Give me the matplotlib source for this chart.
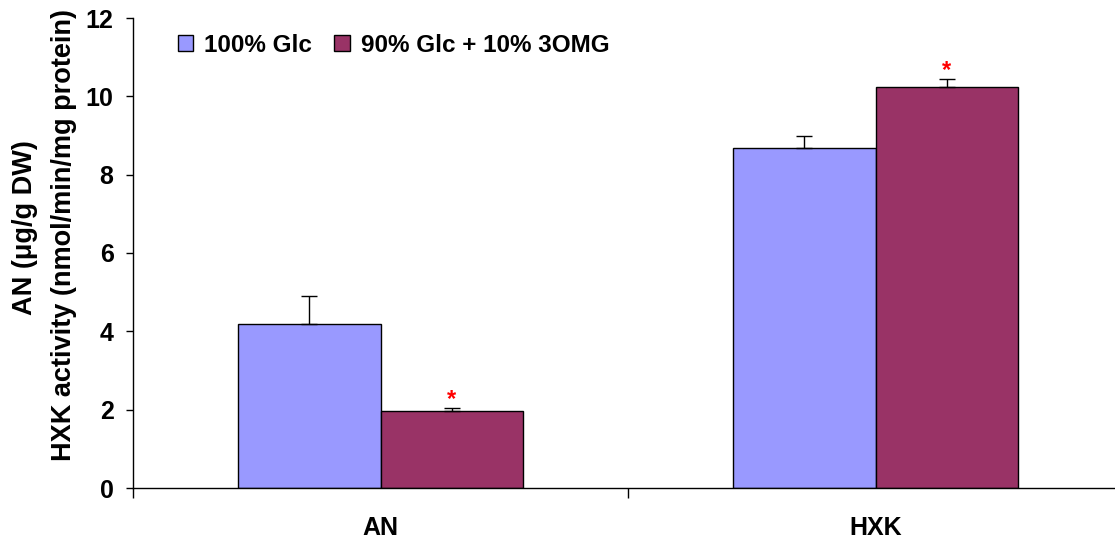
import numpy as np
import matplotlib
matplotlib.use("Agg")
import matplotlib.pyplot as plt

plt.rcParams['font.family'] = ['Liberation Sans', 'DejaVu Sans']
plt.rcParams['font.weight'] = 'bold'

categories = ["AN", "HXK"]
series_names = ["100% Glc", "90% Glc + 10% 3OMG"]
glc_values = [4.19, 8.69]
glc_err = [0.70, 0.30]
omg_values = [1.97, 10.24]
omg_err = [0.07, 0.20]
significant = [True, True]
y_ticks = [0, 2, 4, 6, 8, 10, 12]

blue = "#9999FF"
plum = "#993366"

fig = plt.figure(figsize=(11.15, 5.41), dpi=100)
ax = fig.add_axes([133 / 1115, 53 / 541, 990 / 1115, 470 / 541])

x = np.arange(len(categories))
w = 0.287
ax.bar(x - w / 2, glc_values, w, color=blue, edgecolor="black", linewidth=1.0,
       label=series_names[0], zorder=2)
ax.bar(x + w / 2, omg_values, w, color=plum, edgecolor="black", linewidth=1.0,
       label=series_names[1], zorder=2)
ax.errorbar(x - w / 2, glc_values, yerr=[np.zeros(len(x)), glc_err], fmt="none",
            ecolor="black", elinewidth=1.0, capsize=6, capthick=1.0, zorder=3)
ax.errorbar(x + w / 2, omg_values, yerr=[np.zeros(len(x)), omg_err], fmt="none",
            ecolor="black", elinewidth=1.0, capsize=6, capthick=1.0, zorder=3)

for xi, v, e, s in zip(x, omg_values, omg_err, significant):
    if s:
        ax.text(xi + w / 2, v + e - 0.08, "*", color="red", ha="center",
                va="bottom", fontsize=17, fontweight="bold")

ax.set_xlim(-0.5, 1.5)
ax.set_ylim(0, 12)
ax.set_yticks(y_ticks)
ax.set_yticklabels([str(t) for t in y_ticks], fontsize=18, fontweight="bold")
ax.tick_params(axis="y", direction="out", length=5, width=1, pad=9)

ax.set_xticks([-0.5, 0.5, 1.5])
ax.set_xticklabels([])
ax.tick_params(axis="x", direction="out", length=7, width=1)
for xi, c in zip(x, categories):
    ax.text(xi, -1.03, c, ha="center", va="center", fontsize=18,
            fontweight="bold", transform=ax.transData)

for side in ["top", "right"]:
    ax.spines[side].set_visible(False)
ax.spines["left"].set_linewidth(1)
ax.spines["bottom"].set_linewidth(1)

# two-line y-axis title, placed line by line
fig.text(25 / 1115, 1 - 228 / 541, "AN (\u03bcg/g DW)", rotation=90,
         ha="center", va="center", fontsize=19.5, fontweight="bold")
fig.text(64 / 1115, 1 - 235 / 541, "HXK activity (nmol/min/mg protein)",
         rotation=90, ha="center", va="center", fontsize=19.5,
         fontweight="bold")

leg = ax.legend(loc="upper left", bbox_to_anchor=(0.023, 1.013), ncol=2,
                frameon=False, handlelength=0.65, handleheight=0.65,
                handletextpad=0.45, columnspacing=0.9,
                prop={"weight": "bold", "size": 17.5})

fig.savefig("out.png", dpi=100)
